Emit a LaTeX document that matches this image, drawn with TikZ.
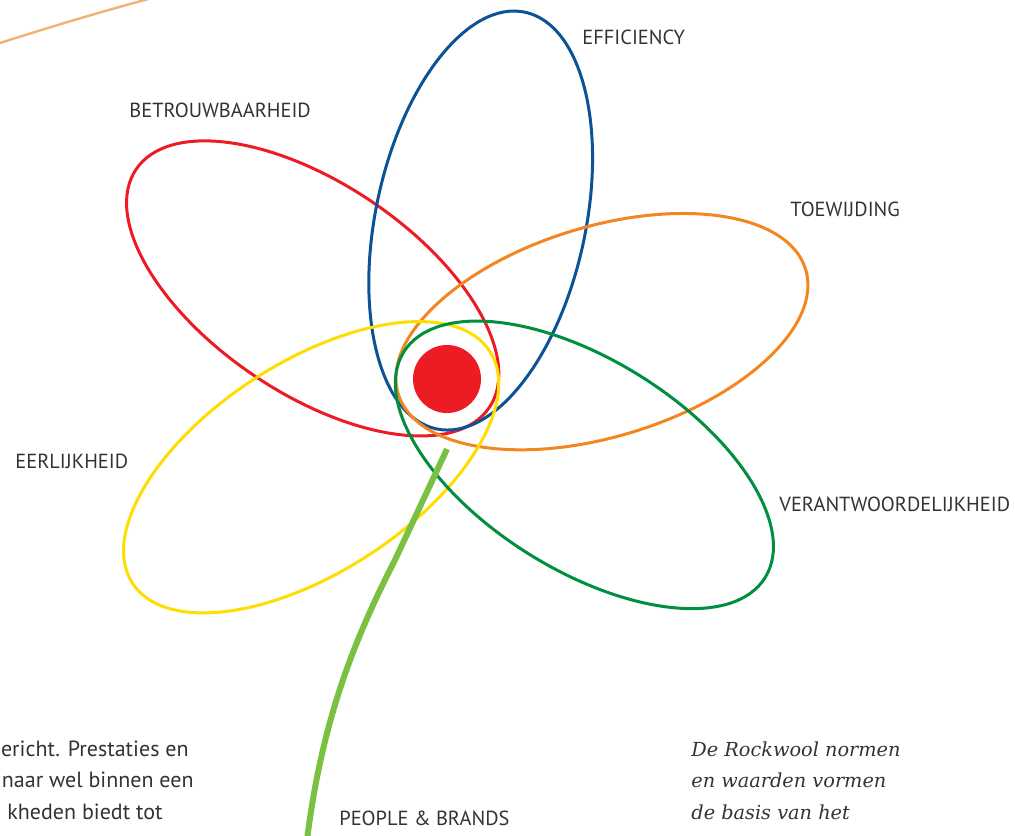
\documentclass[tikz,border=0pt]{standalone}
\usepackage{fontspec}
\newfontfamily\labelfont{PT Sans}
\newfontfamily\cursieffont{DejaVu Serif}
\definecolor{rood}{RGB}{237,28,36}
\definecolor{blauw}{RGB}{12,82,150}
\definecolor{oranje}{RGB}{244,134,32}
\definecolor{geel}{RGB}{255,221,0}
\definecolor{groen}{RGB}{0,143,62}
\definecolor{steelgroen}{RGB}{122,193,66}
\definecolor{tekstgrijs}{RGB}{51,51,51}
\definecolor{randoranje}{RGB}{240,178,115}
\begin{document}
\begin{tikzpicture}[
			x=0.5pt, y=-0.5pt,
			blad/.style={line width=1.5pt},
			hartje/.style={circle, fill=rood, inner sep=0pt, minimum size=34pt},
			steel/.style={line width=3pt, steelgroen},
			bladtekst/.style={font=\labelfont\fontsize{10.2}{12}\selectfont, text=tekstgrijs, inner sep=0pt, anchor=base west},
			lopend/.style={font=\labelfont\fontsize{11}{13}\selectfont, text=tekstgrijs, inner sep=0pt, anchor=base east},
			cursief/.style={font=\cursieffont\itshape\fontsize{9.65}{12}\selectfont, text=tekstgrijs, inner sep=0pt, anchor=base west}
			]
			\useasboundingbox (0,0) rectangle (1015,835);
			\draw[line width=1.2pt, randoranje] (0,43) .. controls (50,27) and (100,12) .. (152,-2);
			\node[hartje] (hart) at (447,379) {};
			\foreach \hoek/\kleur in {146/rood, 78/blauw, 17/oranje, 213/geel, -32/groen}
				\draw[blad, \kleur, shift={(hart.center)}, rotate=\hoek] (162,0) ellipse (213 and 105);
			\coordinate (steelboven) at (447,449);
			\coordinate (steelknik) at (395,560);
			\coordinate (steelonder) at (307,840);
			\draw[steel] (steelboven) -- (steelknik) .. controls (354,640) and (322,720) .. (steelonder);
			\node[bladtekst] (efficiency) at (582,44) {EFFICIENCY};
			\node[bladtekst] (betrouwbaar) at (129,117) {BETROUWBAARHEID};
			\node[bladtekst] (toewijding) at (790,216) {TOEWIJDING};
			\node[bladtekst] (eerlijk) at (15,468) {EERLIJKHEID};
			\node[bladtekst] (verantwoord) at (779,511) {VERANTWOORDELIJKHEID};
			\node[bladtekst] (people) at (339,825) {PEOPLE \& BRANDS};
			\node[lopend] (links1) at (189,756) {ericht. Prestaties en};
			\node[lopend] (links2) at (194,787) {naar wel binnen een};
			\node[lopend] (links3) at (163,819) {kheden biedt tot};
			\foreach \regel [count=\i from 0] in {De Rockwool normen, en waarden vormen, de basis van het}
				\node[cursief] (rechts\i) at (691,{756+31.5*\i}) {\regel};
		\end{tikzpicture}
\end{document}
